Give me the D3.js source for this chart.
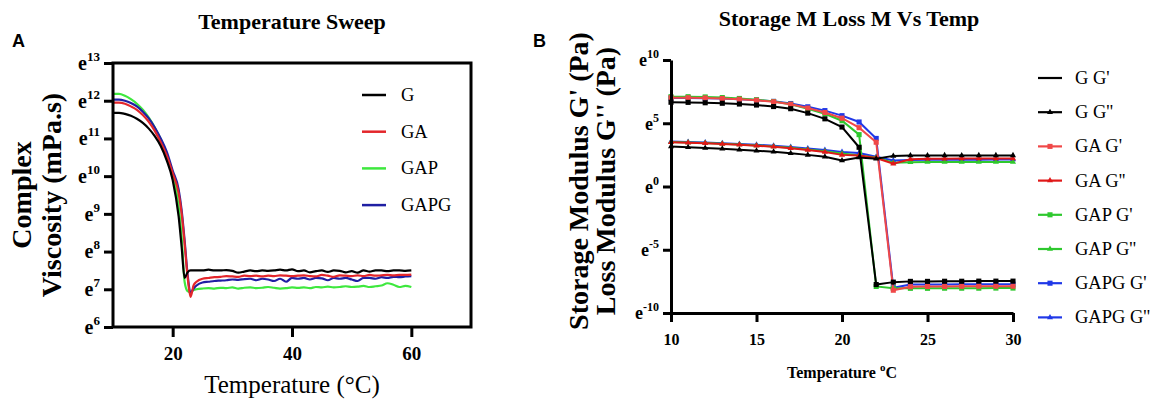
<!DOCTYPE html>
<html>
<head>
<meta charset="utf-8">
<script src="https://cdn.jsdelivr.net/npm/d3@7"></script>
<style>
body { margin: 0; background: #fff; }
</style>
</head>
<body>
<svg id="chart" width="1153" height="405"></svg>
<script>
// ---- panel A : complex viscosity (exponent of e) vs temperature
const tempA = [10, 11, 12, 13, 14, 15, 16, 17, 18, 19, 20, 21, 21.5, 22, 22.5, 23, 23.5, 24,
	25, 26, 27, 28, 29, 30, 31, 32, 33, 34, 35, 36, 37, 38, 39, 40, 41, 42,
	43, 44, 45, 46, 47, 48, 49, 50, 51, 52, 53, 54, 55, 56, 57, 58, 59, 60];
const viscG = [11.68, 11.68, 11.65, 11.6, 11.52, 11.41, 11.26, 11.06, 10.8, 10.42, 9.9, 8.93, 8.13, 7.3, 7.45, 7.5, 7.5, 7.5,
	7.50, 7.52, 7.50, 7.50, 7.51, 7.49, 7.44, 7.47, 7.50, 7.48, 7.50, 7.49, 7.50, 7.52, 7.50, 7.53, 7.48, 7.50,
	7.45, 7.48, 7.50, 7.46, 7.50, 7.49, 7.45, 7.48, 7.44, 7.50, 7.47, 7.50, 7.50, 7.48, 7.50, 7.50, 7.49, 7.50];
const viscGA = [11.95, 11.95, 11.92, 11.85, 11.76, 11.62, 11.44, 11.2, 10.9, 10.55, 10.08, 9.55, 9.02, 8.22, 7.33, 6.8, 7.1, 7.2,
	7.28, 7.30, 7.32, 7.33, 7.35, 7.34, 7.33, 7.36, 7.35, 7.36, 7.34, 7.36, 7.35, 7.37, 7.36, 7.35, 7.36, 7.37,
	7.35, 7.34, 7.38, 7.36, 7.33, 7.37, 7.36, 7.35, 7.37, 7.35, 7.38, 7.36, 7.37, 7.38, 7.37, 7.38, 7.38, 7.39];
const viscGAP = [12.18, 12.18, 12.13, 12.04, 11.92, 11.76, 11.55, 11.29, 10.98, 10.58, 10.05, 9.2, 8.4, 7.2, 6.95, 6.92, 6.98, 7.0,
	7.02, 7.03, 7.02, 7.04, 7.03, 7.05, 7.02, 7.04, 7.05, 7.03, 7.04, 7.06, 7.04, 7.02, 7.03, 7.05, 7.04, 7.05,
	7.03, 7.06, 7.05, 7.07, 7.05, 7.06, 7.08, 7.06, 7.07, 7.09, 7.06, 7.08, 7.10, 7.16, 7.12, 7.06, 7.09, 7.06];
const viscGAPG = [12.03, 12.03, 12.0, 11.94, 11.85, 11.71, 11.53, 11.29, 11.0, 10.65, 10.15, 9.65, 9.1, 8.3, 7.4, 6.9, 7.02, 7.1,
	7.18, 7.20, 7.22, 7.23, 7.24, 7.26, 7.25, 7.27, 7.28, 7.24, 7.28, 7.26, 7.22, 7.28, 7.20, 7.30, 7.28, 7.30,
	7.26, 7.30, 7.29, 7.24, 7.30, 7.28, 7.30, 7.26, 7.22, 7.30, 7.30, 7.28, 7.32, 7.30, 7.33, 7.32, 7.34, 7.35];
const namesA = ["G", "GA", "GAP", "GAPG"];
const colorsA = ["#000000", "#e3262b", "#3ee83e", "#1f1fa3"];
const ticksAy = [6, 7, 8, 9, 10, 11, 12, 13];
const ticksAx = [20, 40, 60];

// ---- panel B : storage / loss modulus (exponent of e) vs temperature
const tempB = [10, 11, 12, 13, 14, 15, 16, 17, 18, 19, 20, 21, 22, 23, 24, 25, 26, 27, 28, 29, 30];
const gStore = [6.66, 6.65, 6.62, 6.58, 6.52, 6.44, 6.32, 6.15, 5.80, 5.35, 4.70, 3.10, -7.75, -7.56, -7.50, -7.50, -7.49, -7.49, -7.48, -7.48, -7.48];
const gLoss = [3.16, 3.10, 3.04, 2.98, 2.90, 2.83, 2.75, 2.62, 2.50, 2.35, 2.05, 2.30, 2.20, 2.42, 2.45, 2.45, 2.46, 2.45, 2.46, 2.46, 2.46];
const gaStore = [7.02, 7.02, 7.00, 6.96, 6.90, 6.82, 6.70, 6.50, 6.20, 5.85, 5.40, 4.65, 3.50, -8.20, -7.92, -7.90, -7.90, -7.89, -7.88, -7.88, -7.88];
const gaLoss = [3.50, 3.46, 3.42, 3.36, 3.30, 3.22, 3.14, 3.02, 2.88, 2.72, 2.50, 2.45, 2.25, 1.80, 2.15, 2.20, 2.20, 2.21, 2.21, 2.22, 2.22];
const gapStore = [7.10, 7.10, 7.08, 7.03, 6.96, 6.86, 6.72, 6.50, 6.15, 5.75, 5.20, 4.10, -7.90, -8.05, -8.05, -8.05, -8.04, -8.04, -8.04, -8.03, -8.03];
const gapLoss = [3.52, 3.48, 3.44, 3.38, 3.32, 3.25, 3.17, 3.06, 2.93, 2.78, 2.60, 2.45, 2.30, 1.88, 1.92, 1.93, 1.93, 1.94, 1.94, 1.94, 1.94];
const gapgStore = [7.00, 7.00, 6.98, 6.95, 6.90, 6.83, 6.73, 6.56, 6.30, 6.00, 5.60, 5.10, 3.80, -8.00, -7.75, -7.74, -7.74, -7.73, -7.73, -7.72, -7.72];
const gapgLoss = [3.55, 3.52, 3.48, 3.42, 3.36, 3.30, 3.22, 3.12, 3.00, 2.88, 2.72, 2.65, 2.35, 2.05, 2.10, 2.12, 2.12, 2.12, 2.12, 2.13, 2.13];
const namesB = ["G G'", "G G''", "GA G'", "GA G''", "GAP G'", "GAP G''", "GAPG G'", "GAPG G''"];
const colorsB = ["#000000", "#000000", "#f04848", "#e01818", "#2ec82e", "#2ec82e", "#2038e8", "#2038e8"];
const ticksBy = [-10, -5, 0, 5, 10];
const ticksBx = [10, 15, 20, 25, 30];

const serif = "'Liberation Serif','Times New Roman',serif";
const sans = "'Liberation Sans',Arial,sans-serif";
const svg = d3.select("#chart");

// turn tick labels into e^n
function expLabels(g, supSize, supDy) {
	g.selectAll(".tick text").each(function(d) {
		const t = d3.select(this).text("");
		t.append("tspan").text("e");
		t.append("tspan").attr("font-size", supSize).attr("dy", supDy).text(d);
	});
}

// common axis look
function styleAxis(g, size) {
	g.attr("font-family", serif).attr("font-size", size).attr("font-weight", "bold");
	g.selectAll(".tick line").attr("stroke-width", 3);
	g.selectAll(".tick text").attr("fill", "#000");
}

/*
* Panel A
*/
const xA = d3.scaleLinear().domain([10, 70]).range([113, 471]);
const yA = d3.scaleLinear().domain([6, 13]).range([327, 63]);
const gA = svg.append("g");

gA.append("text").attr("x", 12).attr("y", 47).attr("font-family", sans).attr("font-weight", "bold")
	.attr("font-size", 18).text("A");
gA.append("text").attr("x", 292).attr("y", 29).attr("text-anchor", "middle").attr("font-family", serif)
	.attr("font-weight", "bold").attr("font-size", 22).text("Temperature Sweep");

const seriesA = [viscG, viscGA, viscGAP, viscGAPG];
const lineA = d3.line().x((d, i) => xA(tempA[i])).y(d => yA(d)).curve(d3.curveMonotoneX);
// draw order: green, blue, red, black
[2, 3, 1, 0].forEach(k => {
	gA.append("path").datum(seriesA[k]).attr("d", lineA).attr("fill", "none")
		.attr("stroke", colorsA[k]).attr("stroke-width", 2.2);
});

gA.append("rect").attr("x", xA(10)).attr("y", yA(13)).attr("width", xA(70) - xA(10))
	.attr("height", yA(6) - yA(13)).attr("fill", "none").attr("stroke", "#000").attr("stroke-width", 3);

const axAy = gA.append("g").attr("transform", `translate(${xA(10)},0)`)
	.call(d3.axisLeft(yA).tickValues(ticksAy).tickSize(9).tickSizeOuter(0).tickPadding(4));
axAy.select(".domain").remove();
styleAxis(axAy, 20);
expLabels(axAy, 13, -9);

const axAx = gA.append("g").attr("transform", `translate(0,${yA(6)})`)
	.call(d3.axisBottom(xA).tickValues(ticksAx).tickSize(10).tickSizeOuter(0).tickPadding(10));
axAx.select(".domain").remove();
styleAxis(axAx, 19);

gA.append("text").attr("x", 292).attr("y", 393).attr("text-anchor", "middle").attr("font-family", serif)
	.attr("font-size", 25).text("Temperature (°C)");
const yTitleA = gA.append("text").attr("transform", "translate(31,195) rotate(-90)").attr("text-anchor", "middle")
	.attr("font-family", serif).attr("font-weight", "bold").attr("font-size", 28);
yTitleA.append("tspan").attr("x", 0).attr("y", 0).text("Complex");
yTitleA.append("tspan").attr("x", 0).attr("y", 30).text("Viscosity (mPa.s)");

// legend A
const legA = gA.append("g");
namesA.forEach((n, i) => {
	const ly = 95 + i * 36.7;
	legA.append("line").attr("x1", 362).attr("x2", 386).attr("y1", ly).attr("y2", ly)
		.attr("stroke", colorsA[i]).attr("stroke-width", 2.5);
	legA.append("text").attr("x", 401).attr("y", ly + 6).attr("font-family", serif).attr("font-size", 18.5).text(n);
});

/*
* Panel B
*/
const xB = d3.scaleLinear().domain([10, 30]).range([671, 1013]);
const yB = d3.scaleLinear().domain([-10, 10]).range([313, 60]);
const gB = svg.append("g");

gB.append("text").attr("x", 533).attr("y", 47).attr("font-family", sans).attr("font-weight", "bold")
	.attr("font-size", 18).text("B");
gB.append("text").attr("x", 849).attr("y", 26).attr("text-anchor", "middle").attr("font-family", serif)
	.attr("font-weight", "bold").attr("font-size", 22).text("Storage M Loss M Vs Temp");

const seriesB = [gStore, gLoss, gaStore, gaLoss, gapStore, gapLoss, gapgStore, gapgLoss];
const lineB = d3.line().x((d, i) => xB(tempB[i])).y(d => yB(d));
const sqr = d3.symbol().type(d3.symbolSquare).size(26);
const tri = d3.symbol().type(d3.symbolTriangle).size(16);
// draw order: blue, green, red, black
[6, 7, 4, 5, 2, 3, 0, 1].forEach(k => {
	const s = gB.append("g");
	s.append("path").datum(seriesB[k]).attr("d", lineB).attr("fill", "none")
		.attr("stroke", colorsB[k]).attr("stroke-width", 2);
	s.selectAll("path.m").data(seriesB[k]).join("path").attr("class", "m")
		.attr("transform", (d, i) => `translate(${xB(tempB[i])},${yB(d)})`)
		.attr("d", k % 2 === 0 ? sqr : tri).attr("fill", colorsB[k]);
});

const axBy = gB.append("g").attr("transform", `translate(${xB(10)},0)`)
	.call(d3.axisLeft(yB).tickValues(ticksBy).tickSize(8).tickSizeOuter(0).tickPadding(4));
axBy.select(".domain").attr("stroke-width", 3);
styleAxis(axBy, 18);
expLabels(axBy, 12, -8);

const axBx = gB.append("g").attr("transform", `translate(0,${yB(-10)})`)
	.call(d3.axisBottom(xB).tickValues(ticksBx).tickSize(9).tickSizeOuter(0).tickPadding(12));
axBx.select(".domain").attr("stroke-width", 3);
styleAxis(axBx, 16);

const xTitleB = gB.append("text").attr("x", 842).attr("y", 378).attr("text-anchor", "middle")
	.attr("font-family", serif).attr("font-weight", "bold").attr("font-size", 16);
xTitleB.append("tspan").text("Temperature ");
xTitleB.append("tspan").attr("font-size", 11).attr("dy", -7).text("o");
xTitleB.append("tspan").attr("dy", 7).text("C");

const yTitleB = gB.append("text").attr("transform", "translate(588,181) rotate(-90)").attr("text-anchor", "middle")
	.attr("font-family", serif).attr("font-weight", "bold").attr("font-size", 28);
yTitleB.append("tspan").attr("x", 0).attr("y", 0).text("Storage Modulus G' (Pa)");
yTitleB.append("tspan").attr("x", 0).attr("y", 27).text("Loss Modulus G'' (Pa)");

// legend B
const legB = gB.append("g");
namesB.forEach((n, i) => {
	const ly = 78 + i * 34.2;
	legB.append("line").attr("x1", 1038).attr("x2", 1062).attr("y1", ly).attr("y2", ly)
		.attr("stroke", colorsB[i]).attr("stroke-width", 2.2);
	if (i > 0) {
		legB.append("path").attr("transform", `translate(1050,${ly})`)
			.attr("d", i % 2 === 0 ? sqr : tri).attr("fill", colorsB[i]);
	}
	legB.append("text").attr("x", 1075).attr("y", ly + 6).attr("font-family", serif).attr("font-size", 18.5).text(n);
});
</script>
</body>
</html>
